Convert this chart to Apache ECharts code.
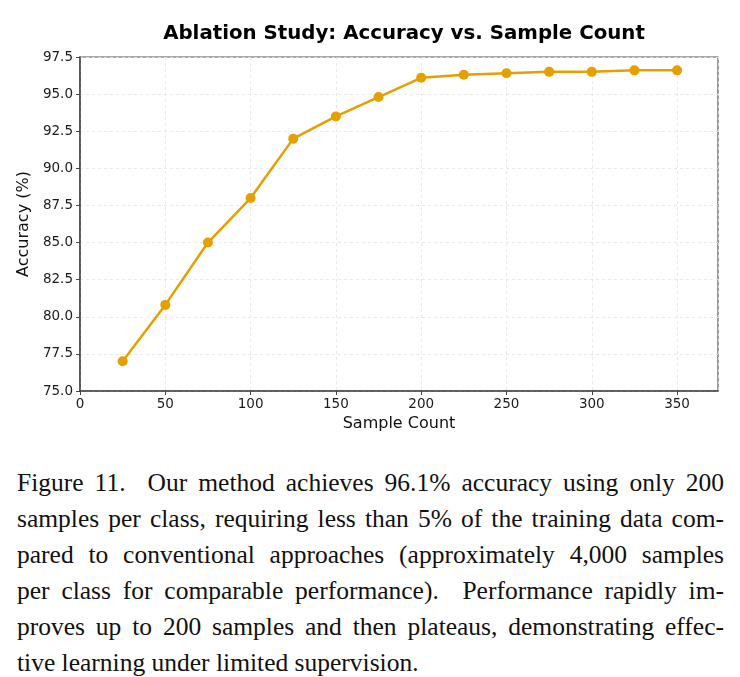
<!DOCTYPE html>
<html>
<head>
<meta charset="utf-8">
<script src="https://cdn.jsdelivr.net/npm/echarts@6/dist/echarts.min.js"></script>
<style>
  html, body { margin: 0; padding: 0; background: #fff; }
  #main { position: absolute; left: 0; top: 0; width: 740px; height: 440px; }
  #caption {
    position: absolute; left: 17px; top: 465px; width: 707px;
    font-family: "Liberation Serif", "DejaVu Serif", serif;
    font-size: 25.5px; line-height: 36px; color: #111;
  }
  #caption div { white-space: pre; text-align: justify; text-align-last: justify; transform-origin: left center; }
  #caption div.last { text-align-last: left; }
</style>
</head>
<body>
<div id="main"></div>
<div id="caption"></div>
<script>
var sampleCounts = [25, 50, 75, 100, 125, 150, 175, 200, 225, 250, 275, 300, 325, 350];
var accuracy = [77.0, 80.8, 85.0, 88.0, 92.0, 93.5, 94.8, 96.1, 96.3, 96.4, 96.5, 96.5, 96.6, 96.6];
var captionLines = [
    'Figure 11.  Our method achieves 96.1% accuracy using only 200',
    'samples per class, requiring less than 5% of the training data com-',
    'pared to conventional approaches (approximately 4,000 samples',
    'per class for comparable performance).  Performance rapidly im-',
    'proves up to 200 samples and then plateaus, demonstrating effec-',
    'tive learning under limited supervision.'
];

var myChart = echarts.init(document.getElementById('main'));
var font = 'DejaVu Sans';
var option = {
    animation: false,
    title: {
        text: 'Ablation Study: Accuracy vs. Sample Count',
        left: 399, top: 19, textAlign: 'center',
        textStyle: { fontFamily: font, fontSize: 19.8, fontWeight: 'bold', color: '#000' }
    },
    grid: {
        left: 80, right: 22, top: 57, height: 334,
        show: true, borderColor: '#555', borderWidth: 1.2
    },
    xAxis: {
        type: 'value', min: 0, max: 374, interval: 50,
        name: 'Sample Count', nameLocation: 'middle', nameGap: 23,
        nameTextStyle: { fontFamily: font, fontSize: 16, color: '#111', verticalAlign: 'top' },
        axisLine: { lineStyle: { color: '#444', width: 1.5 } },
        axisTick: { show: true, length: 4, lineStyle: { color: '#444' } },
        axisLabel: {
            fontFamily: font, fontSize: 13.5, color: '#1a1a1a', margin: 6,
            showMaxLabel: false,
            formatter: function (v) { return v % 50 === 0 ? String(v) : ''; }
        },
        splitLine: { show: true, lineStyle: { color: '#e4e4e4', type: [3, 3], width: 0.8 } }
    },
    yAxis: {
        type: 'value', min: 75, max: 97.5, interval: 2.5,
        name: 'Accuracy (%)', nameLocation: 'middle', nameGap: 45,
        nameTextStyle: { fontFamily: font, fontSize: 16, color: '#111' },
        axisLine: { show: true, lineStyle: { color: '#444', width: 1.5 } },
        axisTick: { show: true, length: 4, lineStyle: { color: '#444' } },
        axisLabel: {
            fontFamily: font, fontSize: 13.5, color: '#1a1a1a', margin: 7,
            formatter: function (v) { return v.toFixed(1); }
        },
        splitLine: { show: true, lineStyle: { color: '#e4e4e4', type: [3, 3], width: 0.8 } }
    },
    series: [{
        type: 'line',
        data: sampleCounts.map(function (x, i) { return [x, accuracy[i]]; }),
        symbol: 'circle', symbolSize: 10,
        lineStyle: { color: '#E69F00', width: 2.5 },
        itemStyle: { color: '#E69F00' }
    }]
};
myChart.setOption(option);

var cap = document.getElementById('caption');
captionLines.forEach(function (t, i) {
    var d = document.createElement('div');
    d.textContent = t;
    if (i === captionLines.length - 1) d.className = 'last';
    cap.appendChild(d);
    // squeeze a line that is wider than the column
    var span = document.createElement('span');
    span.textContent = t;
    span.style.whiteSpace = 'pre';
    span.style.visibility = 'hidden';
    span.style.position = 'absolute';
    cap.appendChild(span);
    var w = span.getBoundingClientRect().width;
    cap.removeChild(span);
    if (w > 707) {
        d.style.width = w + 'px';
        d.style.transform = 'scaleX(' + (707 / w) + ')';
    }
});
</script>
</body>
</html>
